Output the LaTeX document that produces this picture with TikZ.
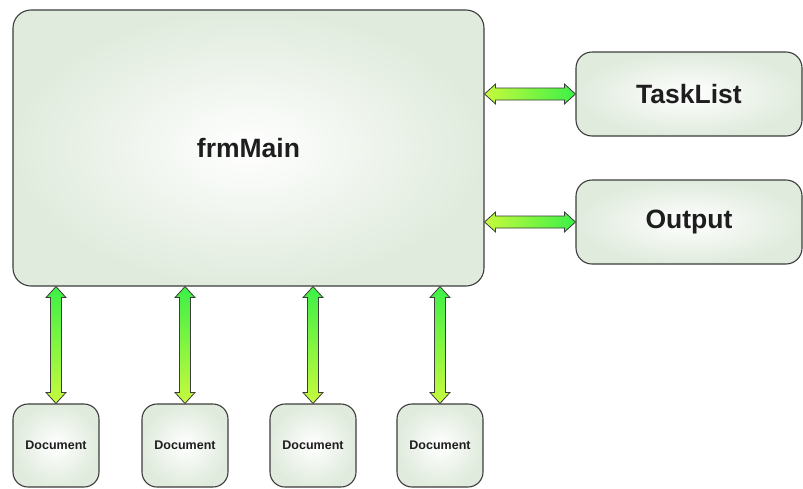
\documentclass[tikz,border=0pt]{standalone}
\usepackage{fontspec}
\setmainfont{Liberation Sans}
\usetikzlibrary{calc}
\definecolor{boxedge}{RGB}{224,235,221}
\definecolor{boxline}{RGB}{60,60,60}
\definecolor{txt}{RGB}{30,30,30}
\definecolor{agreen}{RGB}{60,240,70}
\definecolor{ayellow}{RGB}{200,250,60}
\tikzset{
  box/.style={draw=boxline, line width=1.1pt, inner color=white, outer color=boxedge,
    inner sep=0pt, text=txt},
  bigbox/.style={box, rounded corners=18pt, font=\fontsize{26.5}{30}\selectfont\bfseries},
  sidebox/.style={box, rounded corners=16pt, minimum width=226pt, minimum height=84pt,
    font=\fontsize{26.5}{30}\selectfont\bfseries},
  docbox/.style={box, rounded corners=15pt, minimum width=86pt, minimum height=83pt,
    font=\fontsize{12.5}{14}\selectfont\bfseries},
  arr/.style={draw=boxline, line width=0.8pt, line join=miter},
}
\newcommand\varrow[2]{%
  \path[arr, top color=agreen, bottom color=ayellow] let \p1=(#1), \p2=(#2) in
   (\x1,\y1) -- (\x1+10pt,\y1-11pt) -- (\x1+5.5pt,\y1-11pt) -- (\x1+5.5pt,\y2+11pt)
   -- (\x1+10pt,\y2+11pt) -- (\x1,\y2) -- (\x1-10pt,\y2+11pt) -- (\x1-5.5pt,\y2+11pt)
   -- (\x1-5.5pt,\y1-11pt) -- (\x1-10pt,\y1-11pt) -- cycle;}
\newcommand\harrow[2]{%
  \path[arr, left color=ayellow, right color=agreen] let \p1=(#1), \p2=(#2) in
   (\x1,\y1) -- (\x1+11pt,\y1+10pt) -- (\x1+11pt,\y1+6pt) -- (\x2-11pt,\y1+6pt)
   -- (\x2-11pt,\y1+10pt) -- (\x2,\y1) -- (\x2-11pt,\y1-10pt) -- (\x2-11pt,\y1-6pt)
   -- (\x1+11pt,\y1-6pt) -- (\x1+11pt,\y1-10pt) -- cycle;}
\begin{document}
\begin{tikzpicture}[x=1pt,y=-1pt]
\useasboundingbox (0,0) rectangle (803,488);
\node[bigbox, minimum width=471pt, minimum height=276pt] (main) at (248.5,148) {frmMain};
\node[sidebox] (task) at (689,94) {TaskList};
\node[sidebox] (out) at (689,222) {Output};
\node[docbox] (d1) at (56,445.5) {Document};
\node[docbox] (d2) at (185,445.5) {Document};
\node[docbox] (d3) at (313,445.5) {Document};
\node[docbox] (d4) at (440,445.5) {Document};
\foreach \d in {d1,d2,d3,d4}{
  \coordinate (t\d) at (main.south -| \d.north);
  \varrow{t\d}{\d.north}
}
\coordinate (mt) at (main.east |- task.west);
\coordinate (mo) at (main.east |- out.west);
\harrow{mt}{task.west}
\harrow{mo}{out.west}
\end{tikzpicture}
\end{document}
